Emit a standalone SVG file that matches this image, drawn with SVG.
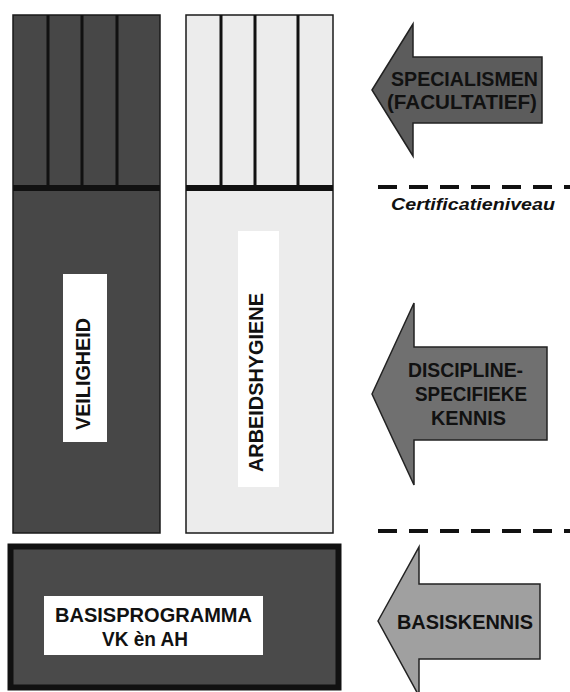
<svg xmlns="http://www.w3.org/2000/svg" width="570" height="692" viewBox="0 0 570 692">
<style>
  .lbl { font-family: "Liberation Sans", Arial, sans-serif; font-weight: bold; fill: #111; }
  .col { stroke: #1a1a1a; stroke-width: 1.5; }
  .div { stroke: #111; stroke-width: 3; }
  .bar { stroke: #111; stroke-width: 6; }
  .arrow { stroke: #222; stroke-width: 1.5; }
  .dash { stroke: #111; stroke-width: 4; stroke-dasharray: 19 12; fill: none; }
  .wbox { fill: #ffffff; }
</style>
<rect width="570" height="692" fill="#ffffff"/>

<g id="veiligheid">
  <rect class="col" x="13" y="15" width="147" height="518" fill="#474747"/>
  <line class="div" x1="48" y1="15" x2="48" y2="188"/>
  <line class="div" x1="82" y1="15" x2="82" y2="188"/>
  <line class="div" x1="117" y1="15" x2="117" y2="188"/>
  <line class="bar" x1="13" y1="188" x2="160" y2="188"/>
  <rect class="wbox" x="63" y="274" width="44" height="168"/>
  <text class="lbl" font-size="20" transform="translate(90,430) rotate(-90)" textLength="112" lengthAdjust="spacingAndGlyphs">VEILIGHEID</text>
</g>

<g id="arbeidshygiene">
  <rect class="col" x="186" y="15" width="147" height="518" fill="#ececec"/>
  <line class="div" x1="221" y1="15" x2="221" y2="188"/>
  <line class="div" x1="255" y1="15" x2="255" y2="188"/>
  <line class="div" x1="298" y1="15" x2="298" y2="188"/>
  <line class="bar" x1="186" y1="188" x2="333" y2="188"/>
  <rect class="wbox" x="238" y="231" width="41" height="256"/>
  <text class="lbl" font-size="20" transform="translate(263,472) rotate(-90)" textLength="179" lengthAdjust="spacingAndGlyphs">ARBEIDSHYGIENE</text>
</g>

<g id="basisprogramma">
  <rect x="10.5" y="546.5" width="328" height="141" fill="#4a4a4a" stroke="#111" stroke-width="6"/>
  <rect class="wbox" x="44" y="596" width="219" height="59"/>
  <text class="lbl" font-size="19.5" x="55" y="622" textLength="197" lengthAdjust="spacingAndGlyphs">BASISPROGRAMMA</text>
  <text class="lbl" font-size="19.5" x="102" y="646" textLength="86" lengthAdjust="spacingAndGlyphs">VK èn AH</text>
</g>

<g id="arrow-specialismen">
  <polygon class="arrow" fill="#5c5c5c" points="372,90 413,24 413,57 542,57 542,123 413,123 413,156"/>
  <text class="lbl" font-size="19.5" x="464.5" y="86" text-anchor="middle" textLength="147" lengthAdjust="spacingAndGlyphs">SPECIALISMEN</text>
  <text class="lbl" font-size="19.5" x="462" y="109" text-anchor="middle" textLength="150" lengthAdjust="spacingAndGlyphs">(FACULTATIEF)</text>
</g>

<g id="arrow-discipline">
  <polygon class="arrow" fill="#707070" points="372,394 414,303 414,347 547,347 547,440 414,440 414,485"/>
  <text class="lbl" font-size="19.5" x="465.5" y="377" text-anchor="middle" textLength="115" lengthAdjust="spacingAndGlyphs">DISCIPLINE-</text>
  <text class="lbl" font-size="19.5" x="471" y="401" text-anchor="middle" textLength="112" lengthAdjust="spacingAndGlyphs">SPECIFIEKE</text>
  <text class="lbl" font-size="19.5" x="468.5" y="425" text-anchor="middle" textLength="75" lengthAdjust="spacingAndGlyphs">KENNIS</text>
</g>

<g id="arrow-basiskennis">
  <polygon class="arrow" fill="#a0a0a0" points="378,621 419,547 419,584 540,584 540,659 419,659 419,696"/>
  <text class="lbl" font-size="19.5" x="465" y="629" text-anchor="middle" textLength="136" lengthAdjust="spacingAndGlyphs">BASISKENNIS</text>
</g>

<g id="connectors">
  <line class="dash" x1="378" y1="187" x2="570" y2="187"/>
  <line class="dash" x1="378" y1="531" x2="570" y2="531"/>
</g>

<g id="certificatieniveau">
  <text class="lbl" font-size="17" font-style="italic" x="391" y="210" textLength="164" lengthAdjust="spacingAndGlyphs">Certificatieniveau</text>
</g>
</svg>
